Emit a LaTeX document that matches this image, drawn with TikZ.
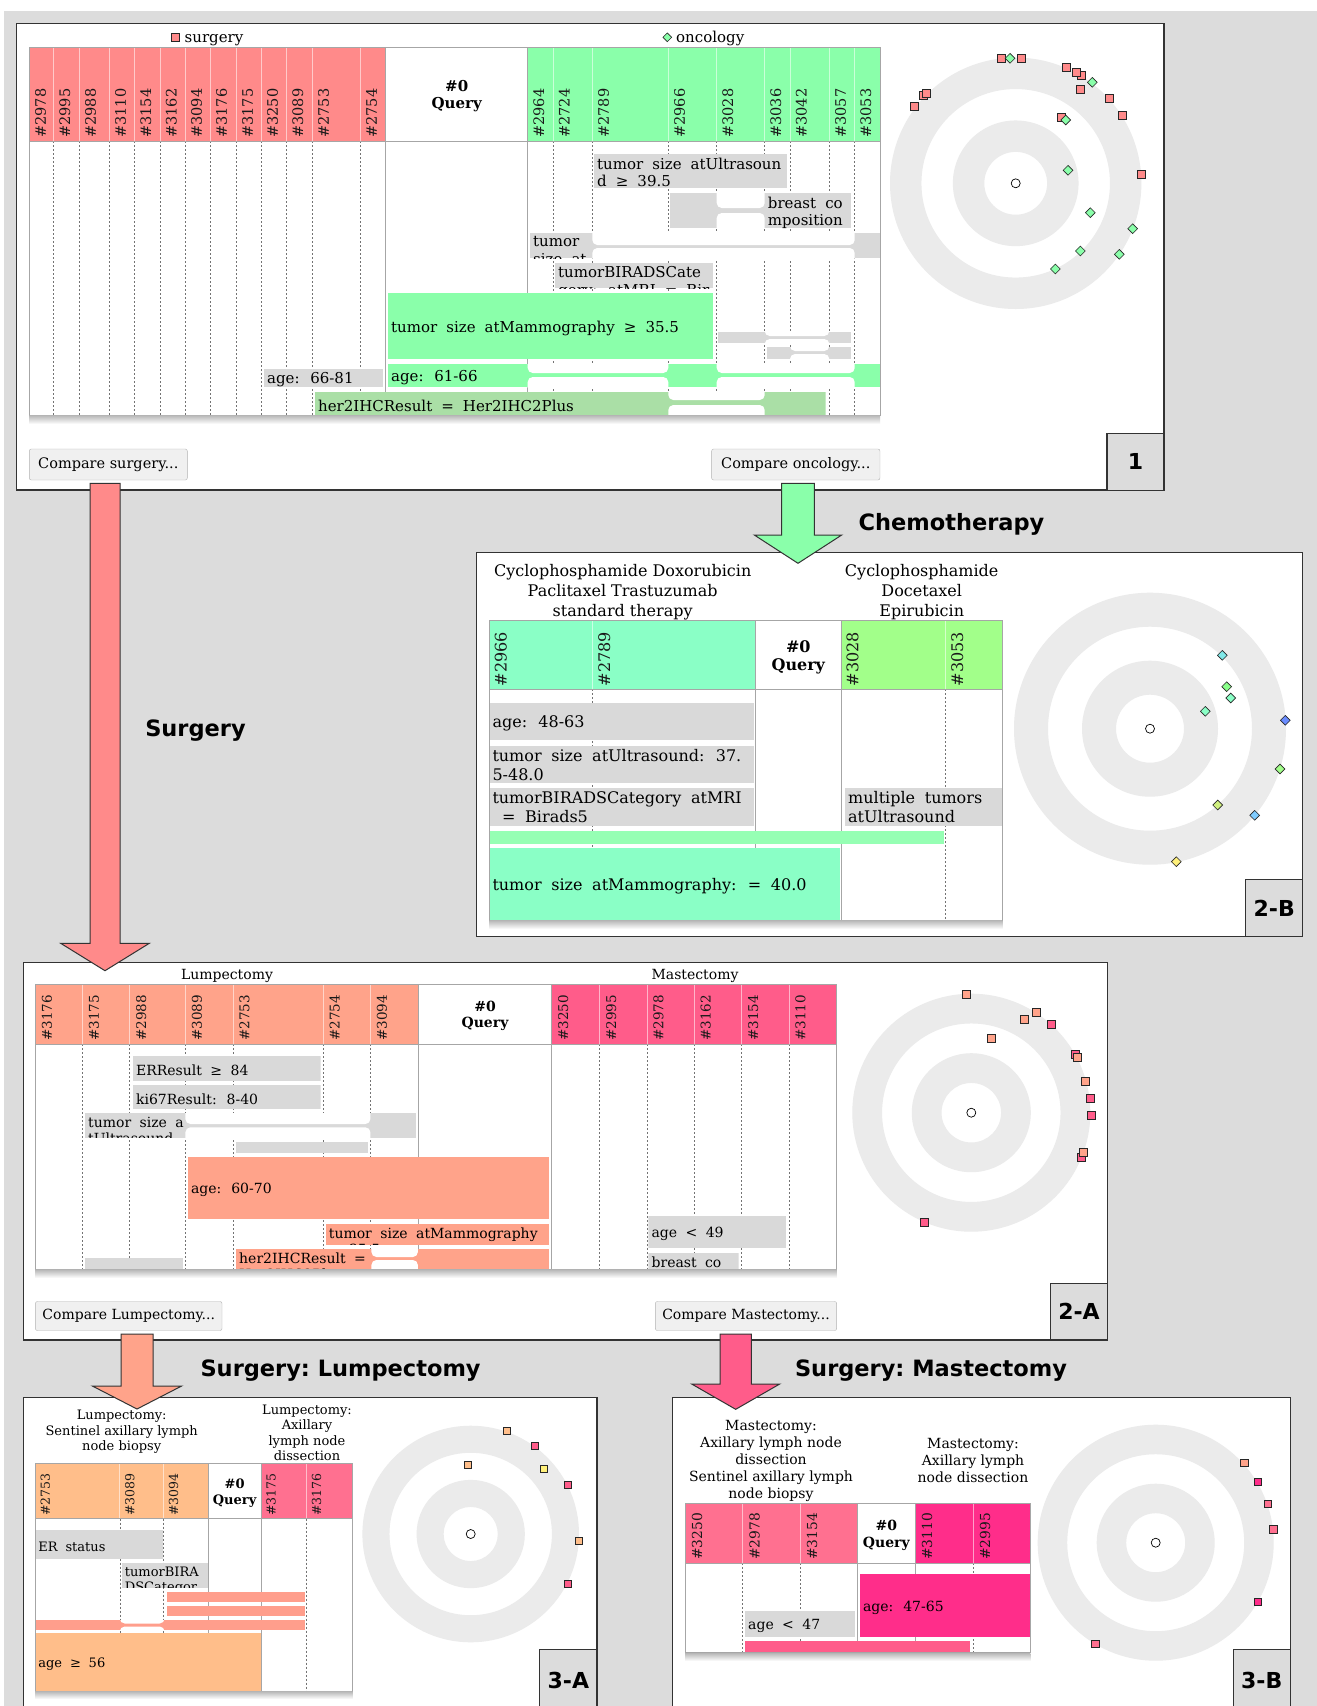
\documentclass[tikz,border=0pt]{standalone}
\usepackage{fontspec}
\setmainfont{DejaVu Serif}
\newfontfamily\barfont[WordSpace=1.9]{DejaVu Serif}
\newfontfamily\headfont{DejaVu Sans}
\usetikzlibrary{shapes.geometric}
\definecolor{bg}{HTML}{DCDCDC}
\definecolor{ring}{HTML}{EBEBEB}
\definecolor{lane}{HTML}{D9D9D9}
\definecolor{surg}{HTML}{FF8A8A}
\definecolor{onco}{HTML}{8AFFAA}
\definecolor{her}{HTML}{AADFA6}
\definecolor{chemA}{HTML}{8AFFC6}
\definecolor{chemB}{HTML}{A2FF8A}
\definecolor{chemG}{HTML}{96FFB4}
\definecolor{lump}{HTML}{FFA38A}
\definecolor{mast}{HTML}{FF5C8A}
\definecolor{slnb}{HTML}{FFBE8A}
\definecolor{alnd}{HTML}{FF7090}
\definecolor{alndB}{HTML}{FF2D8A}
\definecolor{salm}{HTML}{FF9E8C}
\definecolor{yel}{HTML}{FFF07A}
\definecolor{diaC}{HTML}{80E8E8}
\definecolor{diaG}{HTML}{8AFF8A}
\definecolor{diaB}{HTML}{6A8CFF}
\definecolor{diaLB}{HTML}{80CCFF}
\definecolor{diaYG}{HTML}{D0F080}
\newcommand\psize{\fontsize{15}{17.5}\selectfont}
\newcommand\csize{\fontsize{14.5}{16}\selectfont}
\tikzset{panel/.style={draw=black!80,fill=white,line width=1.2pt},paneltag/.style={draw=black!80,fill=bg,line width=1.2pt,font=\headfont\bfseries\fontsize{22}{24}\selectfont,inner sep=0pt},headline/.style={anchor=base,inner sep=0pt,font=\headfont\bfseries\fontsize{22.5}{25}\selectfont\frenchspacing},colid/.style={rotate=90,anchor=base west,inner sep=0pt,text=black!90},query/.style={align=center,inner sep=0pt,font=\bfseries\psize},colsep/.style={draw=white,line width=.8pt,opacity=.55},lanedash/.style={draw=black!55,line width=.6pt,dash pattern=on 2pt off 2pt},tabframe/.style={draw=black!35,line width=.8pt},btn/.style={draw=black!30,fill=black!6,rounded corners=2pt,inner sep=0pt},bartext/.style={inner xsep=3pt,inner ysep=1pt,align=left,font=\barfont\psize},grouplab/.style={align=center,inner sep=0pt,font=\psize},sq/.style={draw=black!85,line width=.6pt,minimum size=8pt,inner sep=0pt},dia/.style={diamond,draw=black!85,line width=.6pt,minimum size=10pt,inner sep=0pt},hub/.style={circle,draw=black,fill=white,line width=.7pt,minimum size=9pt,inner sep=0pt},blk/.style={draw=black!80,line width=1pt,line join=miter}}
\newcommand\lane[7]{\begin{scope}\clip (#3,#4) rectangle (#5,#6);\fill[#2] (#3,#4) rectangle (#5,#6);\node[bartext,anchor=west,yshift=-2pt] (#1) at (#3,{(#4+#6)/2}) {#7};\end{scope}}
\newcommand\lanetop[7]{\begin{scope}\clip (#3,#4) rectangle (#5,#6);\fill[#2] (#3,#4) rectangle (#5,#6);\node[bartext,inner ysep=3.5pt,anchor=north west] (#1) at (#3,#4) {#7};\end{scope}}
\newcommand\notch[6]{\begin{scope}\clip (#1,#2) rectangle (#3,#4);\fill[white,rounded corners=5pt] (#1,#2-8) rectangle (#3,#5) (#1,#6) rectangle (#3,#4+8);\end{scope}}
\newcommand\radar[4]{\fill[ring,even odd rule] (#2,#3) circle (#4) circle ({.75*#4}) circle ({.5*#4}) circle ({.25*#4});\node[hub] (#1) at (#2,#3) {};}
\newcommand\blockdown[7]{\filldraw[blk,fill=#1] (#2-#3,#5) -- (#2+#3,#5) -- (#2+#3,#6) -- (#2+#4,#6) -- (#2,#7) -- (#2-#4,#6) -- (#2-#3,#6) -- cycle;}
\begin{document}
\begin{tikzpicture}[x=1pt,y=-1pt]
\useasboundingbox (0,0) rectangle (1317,1706);
\clip (0,0) rectangle (1317,1706);
\fill[white] (0,0) rectangle (1317,1706);
\fill[bg] (4,11) rectangle (1317,1706);
% panel 1
\draw[panel] (16.7,23.3) rectangle (1164,490);
\begin{scope}
\node[sq,fill=surg] (p1key1) at (175.7,37.3) {};
\node[anchor=base west,inner sep=0pt,font=\psize] (p1lab1) at (184.5,42) {surgery};
\node[dia,fill=onco,minimum size=9pt] (p1key2) at (667.3,37.3) {};
\node[anchor=base west,inner sep=0pt,font=\psize] (p1lab2) at (676,42) {oncology};
\fill[surg] (29.3,47) rectangle (385.7,141);
\fill[onco] (527.7,47) rectangle (880,141);
\foreach \a/\n in {29.3/2978,53.7/2995,79.3/2988,109.3/3110,134.7/3154,160/3162,185.3/3094,210.3/3176,236.3/3175,261.3/3250,286.7/3089,312.3/2753,360.3/2754,527.7/2964,553/2724,592.3/2789,668.3/2966,716.7/3028,764.7/3036,790/3042,829.3/3057,854.7/3053}
  \node[colid,font=\csize] (p1c\n) at (\a+16.5,138) {\#\n};
\foreach \x in {53.7,79.3,109.3,134.7,160,185.3,210.3,236.3,261.3,286.7,312.3,360.3,553,592.3,668.3,716.7,764.7,790,829.3,854.7}
  {\draw[colsep] (\x,47) -- (\x,141); \draw[lanedash] (\x,141) -- (\x,415);}
\draw[tabframe] (29.3,141) -- (880,141) (385.7,47) -- (385.7,415) (527.7,47) -- (527.7,415);
\node[query] (p1q) at (456.7,96) {\#0\\Query};
\lanetop{p1b1}{lane}{594}{154}{787}{188}{tumor size atUltrasoun\\d ≥ 39.5}
\fill[lane] (670,193) rectangle (851,228);
\notch{716.7}{193}{764.7}{228}{208}{213}
\lanetop{p1b2}{lane}{764.7}{193}{851}{228}{breast co\\mposition}
\fill[lane] (530,233) rectangle (880,258);
\notch{592.3}{233}{854.7}{258}{245}{248}
\lanetop{p1b3}{lane}{530}{233}{592.3}{258}{tumor\\size at}
\lanetop{p1b4}{lane}{555}{263}{713}{288}{tumorBIRADSCate\\gory: atMRI = Bir}
\lane{p1b5}{onco}{388}{293}{713}{359}{tumor size atMammography ≥ 35.5}
\fill[lane] (718,332) rectangle (851,343);
\notch{764.7}{332}{829.3}{343}{336}{339}
\fill[lane] (767,347) rectangle (851,359);
\notch{790}{347}{829.3}{359}{351}{354}
\lane{p1b6}{lane}{264}{369}{383}{387}{age: 66-81}
\lane{p1b7}{onco}{388}{364}{880}{387}{age: 61-66}
\notch{527.7}{364}{668.3}{387}{373}{377}
\notch{716.7}{364}{854.7}{387}{373}{377}
\lane{p1b8}{her}{315}{392}{825.7}{415}{her2IHCResult = Her2IHC2Plus}
\notch{668.3}{392}{764.7}{415}{400}{405}
\draw[tabframe] (29.3,47) rectangle (880,415);
\shade[top color=black!28,bottom color=white] (29.3,415.4) rectangle (880,424);
\node[btn,minimum width=158pt,minimum height=31pt,font=\fontsize{14.5}{16}\selectfont] (p1btn1) at (108.3,464.5) {Compare surgery...};
\node[btn,minimum width=168.3pt,minimum height=31pt,font=\fontsize{14.5}{16}\selectfont] (p1btn2) at (795.8,464.5) {Compare oncology...};
\radar{p1hub}{1015.7}{183.3}{125.7}
\foreach \x/\y [count=\i] in {1001.3/58.3,1021.7/58.3,1066.3/67.3,1081/75.3,1076/72,1080.3/89.3,1109.3/98.7,1122.7/115.7,1141/174.3,1061.7/117.3,923.3/95.3,926.7/93.7,914.3/106.7}
  \node[sq,fill=surg] (p1s\i) at (\x,\y) {};
\foreach \x/\y [count=\i] in {1010/58.3,1092.3/82.3,1065.7/120,1068/170.3,1090.3/212.7,1132.7/228.7,1080.3/251,1119.3/254.3,1055.3/269}
  \node[dia,fill=onco] (p1d\i) at (\x,\y) {};
\node[paneltag,minimum width=57pt,minimum height=57pt] (p1tag) at (1135.5,461.6) {1};
\end{scope}
% panel 2-B
\draw[panel] (476.7,552.7) rectangle (1302.7,936.7);
\begin{scope}
\def\psize{\fontsize{16}{18.5}\selectfont}\def\csize{\fontsize{16}{18}\selectfont}
\node[grouplab,font=\fontsize{16}{19.7}\selectfont] (p2bg1) at (622.7,592) {Cyclophosphamide Doxorubicin\\Paclitaxel Trastuzumab\\standard therapy};
\node[grouplab,font=\fontsize{16}{19.7}\selectfont] (p2bg2) at (921.7,592) {Cyclophosphamide\\Docetaxel\\Epirubicin};
\fill[chemA] (489.3,620.7) rectangle (755.7,689.3);
\fill[chemB] (841,620.7) rectangle (1002.3,689.3);
\foreach \a/\n in {489.3/2966,592.7/2789,841/3028,945.7/3053}
  \node[colid,font=\csize] (p2bc\n) at (\a+17.4,686.5) {\#\n};
\foreach \x in {592.7,945.7}
  {\draw[colsep] (\x,620.7) -- (\x,689.3); \draw[lanedash] (\x,689.3) -- (\x,920);}
\draw[tabframe] (489.3,689.3) -- (1002.3,689.3) (755.7,620.7) -- (755.7,920) (841,620.7) -- (841,920);
\node[query] (p2bq) at (798.3,657.5) {\#0\\Query};
\lane{p2bb1}{lane}{489.3}{703}{754}{740}{age: 48-63}
\lanetop{p2bb2}{lane}{489.3}{746}{754}{783}{tumor size atUltrasound: 37.\\5-48.0}
\lanetop{p2bb3}{lane}{489.3}{788}{754}{826}{tumorBIRADSCategory atMRI\\~= Birads5}
\lanetop{p2bb4}{lane}{845}{788}{1002.3}{826}{multiple tumors\\atUltrasound}
\fill[chemG] (489.3,830.7) rectangle (944,844);
\lane{p2bb5}{chemA}{489.3}{848}{840}{920}{tumor size atMammography: = 40.0}
\draw[tabframe] (489.3,620.7) rectangle (1002.3,920);
\shade[top color=black!28,bottom color=white] (489.3,920.4) rectangle (1002.3,929);
\radar{p2bhub}{1150}{728.7}{136}
\foreach \x/\y/\c [count=\i] in {1222.3/655.3/diaC,1226.7/686.7/diaG,1230.7/698/chemA,1205.3/711.3/chemA,1285.3/720.3/diaB,1280/769/chemB,1217.7/805/diaYG,1254.7/815.3/diaLB,1176.3/861.7/yel}
  \node[dia,fill=\c] (p2bd\i) at (\x,\y) {};
\node[paneltag,minimum width=57pt,minimum height=57pt] (p2btag) at (1274.2,908.2) {2-B};
\end{scope}
% panel 2-A
\draw[panel] (23.2,962.7) rectangle (1107.5,1340);
\begin{scope}
\def\psize{\fontsize{14}{16.5}\selectfont}\def\csize{\fontsize{13.5}{15}\selectfont}
\node[grouplab] (p2ag1) at (227,976) {Lumpectomy};
\node[grouplab] (p2ag2) at (695,976) {Mastectomy};
\fill[lump] (35.4,984) rectangle (418.2,1044.3);
\fill[mast] (551.8,984) rectangle (836.7,1044.3);
\foreach \a/\n in {35.4/3176,82.5/3175,129.6/2988,185.4/3089,232.9/2753,323.2/2754,370.4/3094,551.8/3250,599.6/2995,646.9/2978,694.2/3162,741.6/3154,788.9/3110}
  \node[colid,font=\csize] (p2ac\n) at (\a+16.4,1041) {\#\n};
\foreach \x in {82.5,129.6,185.4,232.9,323.2,370.4,599.6,646.9,694.2,741.6,788.9}
  {\draw[colsep] (\x,984) -- (\x,1044.3); \draw[lanedash] (\x,1044.3) -- (\x,1269.3);}
\draw[tabframe] (35.4,1044.3) -- (836.7,1044.3) (418.2,984) -- (418.2,1269.3) (551.8,984) -- (551.8,1269.3);
\node[query] (p2aq) at (485,1015.8) {\#0\\Query};
\lane{p2ab1}{lane}{132.9}{1056}{320.7}{1080.7}{ERResult ≥ 84}
\lane{p2ab2}{lane}{132.9}{1085}{320.7}{1109}{ki67Result: 8-40}
\fill[lane] (85,1113.3) rectangle (416,1137.7);
\notch{185.4}{1113.3}{370.4}{1137.7}{1124}{1127.3}
\lanetop{p2ab3}{lane}{85}{1113.3}{185.4}{1137.7}{tumor size a\\tUltrasound}
\fill[lane] (236,1142.3) rectangle (368,1152.7);
\lane{p2ab4}{lump}{187.9}{1157.3}{549}{1219.3}{age: 60-70}
\lanetop{p2ab5}{lump}{325.7}{1224}{549}{1244.7}{tumor size atMammography\\≥ 35.5}
\fill[lump] (236,1249) rectangle (549,1269.3);
\notch{371.4}{1249}{417.9}{1269.3}{1257}{1260}
\lanetop{p2ab6}{lump}{236}{1249}{371.4}{1269.3}{her2IHCResult =\\Her2IHC2Plus}
\fill[lane] (85,1258) rectangle (182.9,1269.3);
\lane{p2ab7}{lane}{648.4}{1215.7}{786}{1247.7}{age < 49}
\lanetop{p2ab8}{lane}{648.4}{1252.7}{738.6}{1269.3}{breast co}
\draw[tabframe] (35.4,984) rectangle (836.7,1269.3);
\shade[top color=black!28,bottom color=white] (35.4,1269.7) rectangle (836.7,1278);
\node[btn,minimum width=186.6pt,minimum height=29pt,font=\fontsize{14}{16}\selectfont] (p2abtn1) at (128.7,1316) {Compare Lumpectomy...};
\node[btn,minimum width=181.3pt,minimum height=29pt,font=\fontsize{14}{16}\selectfont] (p2abtn2) at (746,1316) {Compare Mastectomy...};
\radar{p2ahub}{971.3}{1112.7}{119}
\foreach \x/\y/\c [count=\i] in {966.1/994.3/lump,1036/1012.3/lump,1023.8/1019/lump,991.3/1038.7/lump,1051.6/1024.3/mast,1075.2/1054.3/mast,1077.1/1057.7/lump,1085.6/1081/lump,1090/1098/mast,1090.8/1115.3/mast,1080.8/1157.7/mast,1083/1152.3/lump,924.7/1222.3/mast}
  \node[sq,fill=\c] (p2as\i) at (\x,\y) {};
\node[paneltag,minimum width=57pt,minimum height=56.7pt] (p2atag) at (1079,1311.7) {2-A};
\end{scope}
% panel 3-A
\draw[panel] (23.7,1397.7) rectangle (597,1712);
\begin{scope}
\def\psize{\fontsize{13}{15.5}\selectfont}\def\csize{\fontsize{12.5}{14}\selectfont}
\node[grouplab] (p3ag1) at (121.7,1432) {Lumpectomy:\\Sentinel axillary lymph\\node biopsy};
\node[grouplab] (p3ag2) at (307,1432.7) {Lumpectomy:\\Axillary\\lymph node\\dissection};
\fill[slnb] (35.2,1463.3) rectangle (208.2,1518.7);
\fill[alnd] (261,1463.3) rectangle (352.5,1518.7);
\foreach \a/\n in {35.2/2753,119.8/3089,163.4/3094,261/3175,306.5/3176}
  \node[colid,font=\csize] (p3ac\n) at (\a+14.6,1515.7) {\#\n};
\foreach \x in {119.8,163.4,306.5}
  {\draw[colsep] (\x,1463.3) -- (\x,1518.7); \draw[lanedash] (\x,1518.7) -- (\x,1691);}
\draw[tabframe] (35.2,1518.7) -- (352.5,1518.7) (208.2,1463.3) -- (208.2,1691) (261,1463.3) -- (261,1691);
\node[query] (p3aq) at (234.6,1493) {\#0\\Query};
\lane{p3ab1}{lane}{35.2}{1530}{163.4}{1559.3}{ER status}
\lanetop{p3ab2}{lane}{121.7}{1563.3}{208.2}{1587.7}{tumorBIRA\\DSCategor}
\fill[salm] (167.2,1591.7) rectangle (305,1601.7);
\fill[salm] (167.2,1606) rectangle (305,1616);
\fill[salm] (35.2,1620) rectangle (305,1630);
\notch{119.8}{1620}{164.6}{1630}{1623.5}{1626.5}
\lane{p3ab3}{slnb}{35.2}{1633.3}{261}{1691}{age ≥ 56}
\draw[tabframe] (35.2,1463.3) rectangle (352.5,1691);
\shade[top color=black!28,bottom color=white] (35.2,1691.4) rectangle (352.5,1699);
\radar{p3ahub}{470.7}{1534}{108.3}
\foreach \x/\y/\c [count=\i] in {506.3/1431/slnb,535/1446/mast,468/1464.3/slnb,543.8/1468.7/yel,567.9/1484.3/mast,579/1541/slnb,567.9/1583.3/mast}
  \node[sq,fill=\c,minimum size=7pt] (p3as\i) at (\x,\y) {};
\node[paneltag,minimum width=57.4pt,minimum height=62pt] (p3atag) at (568.3,1680.3) {3-A};
\end{scope}
% panel 3-B
\draw[panel] (672.6,1397.7) rectangle (1290.2,1712);
\begin{scope}
\def\psize{\fontsize{14}{17}\selectfont}\def\csize{\fontsize{13.8}{15}\selectfont}
\node[grouplab] (p3bg1) at (771,1460.5) {Mastectomy:\\Axillary lymph node\\dissection\\Sentinel axillary lymph\\node biopsy};
\node[grouplab] (p3bg2) at (973,1460.5) {Mastectomy:\\Axillary lymph\\node dissection};
\fill[alnd] (685.1,1503.3) rectangle (857.4,1563.3);
\fill[alndB] (915.2,1503.3) rectangle (1030.4,1563.3);
\foreach \a/\n in {685.1/3250,742.5/2978,800/3154,915.2/3110,973/2995}
  \node[colid,font=\csize] (p3bc\n) at (\a+17,1560) {\#\n};
\foreach \x in {742.5,800,973}
  {\draw[colsep] (\x,1503.3) -- (\x,1563.3); \draw[lanedash] (\x,1563.3) -- (\x,1652.7);}
\draw[tabframe] (685.1,1563.3) -- (1030.4,1563.3) (857.4,1503.3) -- (857.4,1652.7) (915.2,1503.3) -- (915.2,1652.7);
\node[query] (p3bq) at (886.3,1535) {\#0\\Query};
\lane{p3bb1}{alndB}{859.9}{1574.3}{1030.4}{1636.7}{age: 47-65}
\lane{p3bb2}{lane}{745}{1611}{854.8}{1636.7}{age < 47}
\fill[mast] (745,1641) rectangle (970,1652.7);
\draw[tabframe] (685.1,1503.3) rectangle (1030.4,1652.7);
\shade[top color=black!28,bottom color=white] (685.1,1653.1) rectangle (1030.4,1661);
\radar{p3bhub}{1155.7}{1542.7}{118}
\foreach \x/\y/\c [count=\i] in {1244.1/1462.7/lump,1257.9/1482/alndB,1268/1504/alnd,1273.4/1529.3/alnd,1257.9/1602/alndB,1095.3/1643.7/alnd}
  \node[sq,fill=\c,minimum size=7.5pt] (p3bs\i) at (\x,\y) {};
\node[paneltag,minimum width=57pt,minimum height=62pt] (p3btag) at (1261.7,1680.3) {3-B};
\end{scope}
% arrows between panels
\blockdown{surg}{105}{15}{44.3}{483.3}{943.3}{970.7}
\blockdown{onco}{798}{16.3}{43.7}{483.3}{535}{563.3}
\blockdown{lump}{137}{16}{44.6}{1334}{1386}{1409}
\blockdown{mast}{735.7}{15.7}{44}{1334}{1384}{1409.3}
\node[headline] (tSurg) at (195.5,736.5) {Surgery};
\node[headline] (tChemo) at (951.5,530) {Chemotherapy};
\node[headline] (tLump) at (340.6,1376.5) {Surgery: Lumpectomy};
\node[headline] (tMast) at (931,1376.5) {Surgery: Mastectomy};
\end{tikzpicture}
\end{document}
